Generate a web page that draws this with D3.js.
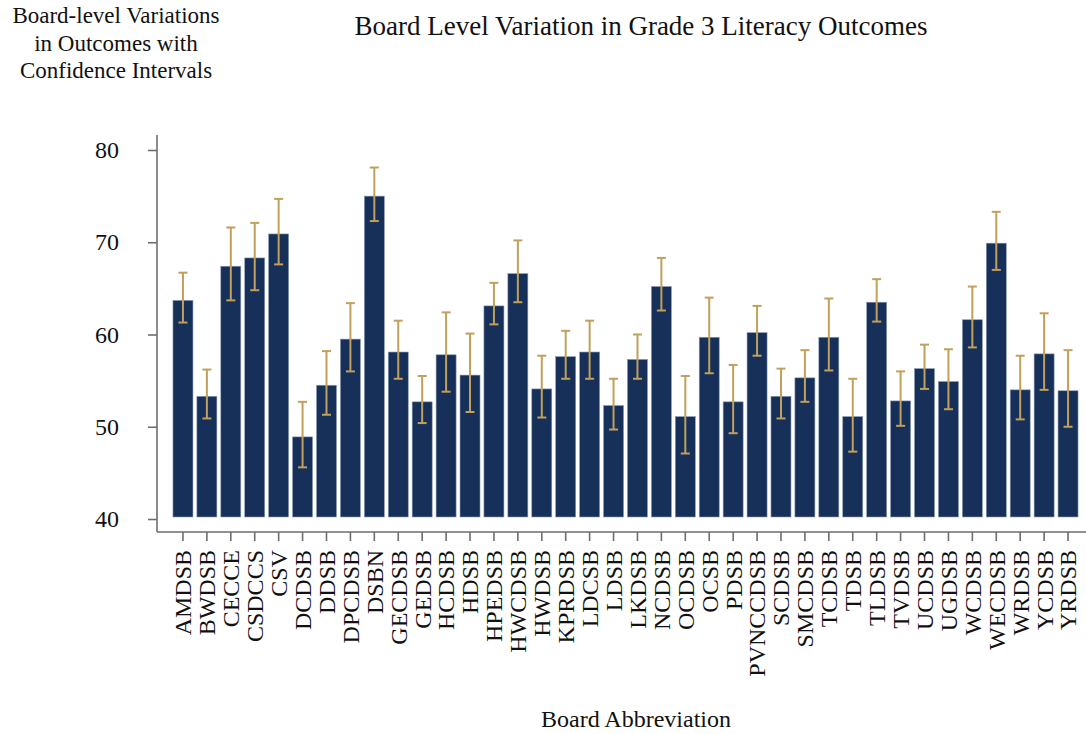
<!DOCTYPE html>
<html>
<head>
<meta charset="utf-8">
<script src="https://cdn.jsdelivr.net/npm/d3@7"></script>
<style>
  body { margin: 0; background: #fff; }
  text { font-family: "Liberation Serif", "Times New Roman", serif; fill: #111; }
</style>
</head>
<body>
<script>
const boards = ['AMDSB','BWDSB','CECCE','CSDCCS','CSV','DCDSB','DDSB','DPCDSB','DSBN','GECDSB',
  'GEDSB','HCDSB','HDSB','HPEDSB','HWCDSB','HWDSB','KPRDSB','LDCSB','LDSB','LKDSB',
  'NCDSB','OCDSB','OCSB','PDSB','PVNCCDSB','SCDSB','SMCDSB','TCDSB','TDSB','TLDSB',
  'TVDSB','UCDSB','UGDSB','WCDSB','WECDSB','WRDSB','YCDSB','YRDSB'];
const means = [63.7,53.3,67.4,68.3,70.9,48.9,54.5,59.5,75.0,58.1,
  52.7,57.8,55.6,63.1,66.6,54.1,57.6,58.1,52.3,57.3,
  65.2,51.1,59.7,52.7,60.2,53.3,55.3,59.7,51.1,63.5,
  52.8,56.3,54.9,61.6,69.9,54.0,57.9,53.9];
const upper = [66.7,56.2,71.6,72.1,74.7,52.7,58.2,63.4,78.1,61.5,
  55.5,62.4,60.1,65.6,70.2,57.7,60.4,61.5,55.2,60.0,
  68.3,55.5,64.0,56.7,63.1,56.3,58.3,63.9,55.2,66.0,
  56.0,58.9,58.4,65.2,73.3,57.7,62.3,58.3];
const lower = [61.3,50.9,63.7,64.8,67.6,45.6,51.3,56.0,72.3,55.2,
  50.4,53.8,51.6,61.1,63.5,51.0,55.2,55.2,49.7,55.2,
  62.6,47.1,55.8,49.3,57.7,50.9,52.7,56.1,47.3,61.4,
  50.1,54.1,51.9,58.6,67.0,50.8,54.0,50.0];
const yTicks = [40, 50, 60, 70, 80];

const W = 1086, H = 734;
const barColor = '#17305a';
const ciColor = '#c0a05a';
const axisColor = '#6e6e6e';

const svg = d3.select('body').append('svg').attr('width', W).attr('height', H);

const x = d3.scaleBand().domain(boards).range([171, 1080]).paddingInner(0.164).paddingOuter(0.082);
const y = d3.scaleLinear().domain([40, 80]).range([519, 150]);

const rows = boards.map((b, i) => ({ b, m: means[i], lo: lower[i], hi: upper[i] }));

// bars
svg.selectAll('rect.bar')
  .data(rows)
  .enter()
  .append('rect')
  .attr('class', 'bar')
  .attr('x', d => x(d.b))
  .attr('y', d => y(d.m))
  .attr('width', x.bandwidth())
  .attr('height', d => y(40) - 2 - y(d.m))
  .attr('fill', barColor)
  .attr('stroke', '#8a9ab3')
  .attr('stroke-width', 0.6);

// confidence intervals
const ci = svg.append('g').attr('stroke', ciColor).attr('stroke-width', 2);
const cap = 4.5;
rows.forEach(d => {
  const cx = x(d.b) + x.bandwidth() / 2;
  ci.append('line').attr('x1', cx).attr('x2', cx).attr('y1', y(d.hi)).attr('y2', y(d.lo));
  ci.append('line').attr('x1', cx - cap).attr('x2', cx + cap).attr('y1', y(d.hi)).attr('y2', y(d.hi));
  ci.append('line').attr('x1', cx - cap).attr('x2', cx + cap).attr('y1', y(d.lo)).attr('y2', y(d.lo));
});

// axes
const axisY = 532, axisX = 157;
svg.append('line').attr('x1', axisX).attr('x2', axisX).attr('y1', 135).attr('y2', axisY)
  .attr('stroke', axisColor).attr('stroke-width', 1.6);
svg.append('line').attr('x1', axisX).attr('x2', W).attr('y1', axisY).attr('y2', axisY)
  .attr('stroke', axisColor).attr('stroke-width', 1.6);

const gy = svg.append('g').attr('transform', `translate(${axisX},0)`)
  .call(d3.axisLeft(y).tickValues(yTicks).tickSize(9).tickPadding(29));
gy.select('.domain').remove();
gy.selectAll('.tick line').attr('stroke', axisColor).attr('stroke-width', 1.6);
gy.selectAll('.tick text').style('font-size', '24px').style('font-family', '"Liberation Serif", serif').attr('fill', '#111');

const gx = svg.append('g').attr('transform', `translate(0,${axisY})`)
  .call(d3.axisBottom(x).tickSize(9).tickSizeOuter(0));
gx.select('.domain').remove();
gx.selectAll('.tick line').attr('stroke', axisColor).attr('stroke-width', 1.6);
gx.selectAll('.tick text')
  .style('font-size', '24px').style('font-family', '"Liberation Serif", serif').attr('fill', '#111')
  .attr('text-anchor', 'end')
  .attr('dy', '0.35em')
  .attr('transform', 'rotate(-90)')
  .attr('x', -18)
  .attr('y', 0);

// titles
svg.append('text').attr('x', 641).attr('y', 35).attr('text-anchor', 'middle')
  .style('font-size', '27px').text('Board Level Variation in Grade 3 Literacy Outcomes');

const side = ['Board-level Variations', 'in Outcomes with', 'Confidence Intervals'];
svg.append('g').selectAll('text').data(side).enter().append('text')
  .attr('x', 116).attr('y', (d, i) => 23 + i * 27.5)
  .attr('text-anchor', 'middle').style('font-size', '23px').text(d => d);

svg.append('text').attr('x', 636).attr('y', 727).attr('text-anchor', 'middle')
  .style('font-size', '24px').text('Board Abbreviation');
</script>
</body>
</html>
